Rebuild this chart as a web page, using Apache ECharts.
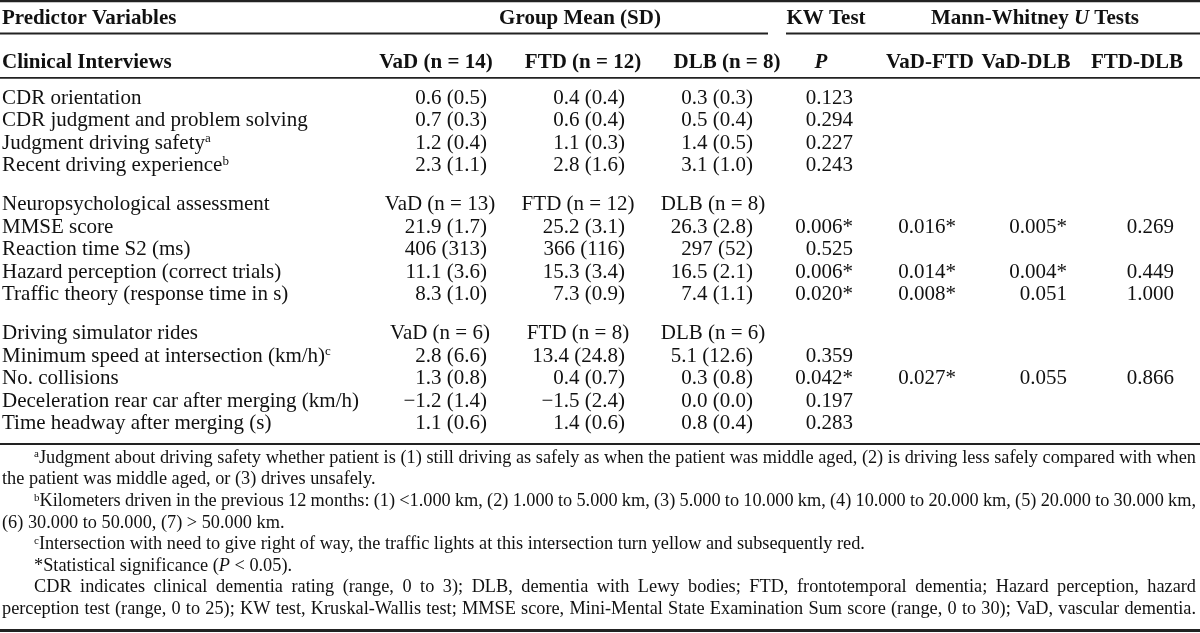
<!DOCTYPE html>
<html><head><meta charset="utf-8">
<script src="https://cdn.jsdelivr.net/npm/echarts@6/dist/echarts.min.js"></script>
<style>html,body{margin:0;padding:0;background:#fff}#c{width:1200px;height:633px}</style>
</head><body><div id="c"></div>
<script>
// ---------- DATA ----------
const headerTop = ['Predictor Variables', 'Group Mean (SD)', 'KW Test', 'Mann-Whitney {bi|U} Tests'];
const headerSub = ['Clinical Interviews', 'VaD (n = 14)', 'FTD (n = 12)', 'DLB (n = 8)', '{bi|P}', 'VaD-FTD', 'VaD-DLB', 'FTD-DLB'];
const rowLabels = [
  'CDR orientation', 'CDR judgment and problem solving', 'Judgment driving safety{sup|a}', 'Recent driving experience{sup|b}',
  'Neuropsychological assessment', 'MMSE score', 'Reaction time S2 (ms)', 'Hazard perception (correct trials)', 'Traffic theory (response time in s)',
  'Driving simulator rides', 'Minimum speed at intersection (km/h){sup|c}', 'No. collisions', 'Deceleration rear car after merging (km/h)', 'Time headway after merging (s)'
];
const rowGroup = [0,0,0,0, 1,1,1,1,1, 2,2,2,2,2];
const sectionHeads = {4: ['VaD (n = 13)', 'FTD (n = 12)', 'DLB (n = 8)'], 9: ['VaD (n = 6)', 'FTD (n = 8)', 'DLB (n = 6)']};
const vadValues = ['0.6 (0.5)', '0.7 (0.3)', '1.2 (0.4)', '2.3 (1.1)', '', '21.9 (1.7)', '406 (313)', '11.1 (3.6)', '8.3 (1.0)', '', '2.8 (6.6)', '1.3 (0.8)', '\u22121.2 (1.4)', '1.1 (0.6)'];
const ftdValues = ['0.4 (0.4)', '0.6 (0.4)', '1.1 (0.3)', '2.8 (1.6)', '', '25.2 (3.1)', '366 (116)', '15.3 (3.4)', '7.3 (0.9)', '', '13.4 (24.8)', '0.4 (0.7)', '\u22121.5 (2.4)', '1.4 (0.6)'];
const dlbValues = ['0.3 (0.3)', '0.5 (0.4)', '1.4 (0.5)', '3.1 (1.0)', '', '26.3 (2.8)', '297 (52)', '16.5 (2.1)', '7.4 (1.1)', '', '5.1 (12.6)', '0.3 (0.8)', '0.0 (0.0)', '0.8 (0.4)'];
const kwP       = ['0.123', '0.294', '0.227', '0.243', '', '0.006*', '0.525', '0.006*', '0.020*', '', '0.359', '0.042*', '0.197', '0.283'];
const vadFtdP   = ['', '', '', '', '', '0.016*', '', '0.014*', '0.008*', '', '', '0.027*', '', ''];
const vadDlbP   = ['', '', '', '', '', '0.005*', '', '0.004*', '0.051', '', '', '0.055', '', ''];
const ftdDlbP   = ['', '', '', '', '', '0.269', '', '0.449', '1.000', '', '', '0.866', '', ''];
const footnoteLines = [
  '{sup|a}Judgment about driving safety whether patient is (1) still driving as safely as when the patient was middle aged, (2) is driving less safely compared with when',
  'the patient was middle aged, or (3) drives unsafely.',
  '{sup|b}Kilometers driven in the previous 12 months: (1) <1.000 km, (2) 1.000 to 5.000 km, (3) 5.000 to 10.000 km, (4) 10.000 to 20.000 km, (5) 20.000 to 30.000 km,',
  '(6) 30.000 to 50.000, (7) > 50.000 km.',
  '{sup|c}Intersection with need to give right of way, the traffic lights at this intersection turn yellow and subsequently red.',
  '*Statistical significance ({i|P} < 0.05).',
  'CDR indicates clinical dementia rating (range, 0 to 3); DLB, dementia with Lewy bodies; FTD, frontotemporal dementia; Hazard perception, hazard',
  'perception test (range, 0 to 25); KW test, Kruskal-Wallis test; MMSE score, Mini-Mental State Examination Sum score (range, 0 to 30); VaD, vascular dementia.'
];
const footnoteIndent  = [1,0,1,0,1,1,1,0];
const footnoteJustify = [1,0,1,0,0,0,1,1];

// ---------- LAYOUT ----------
const FONT = "'Liberation Serif','Times New Roman',serif";
const INK = '#111';
const BODY = 21, NOTE = 18.3;
const LEFT = 2, RIGHT = 1196, INDENT = 32;
const valueRight = [487, 625, 753, 853, 956, 1067, 1174];
const subCenters = [436, 583, 727, 821, 930, 1026, 1137];
const sectionCenters = [440, 578, 713];
const topCenters = [580, 826, 1035];
const yTop = 19, ySub = 63, yRow0 = 98, rowStep = 22.5, groupGap = 16.5;
const yNote0 = 458, noteStep = 21.6;
const rules = [
  {x1: 0, x2: 1200, y: 1.2, w: 2.2},
  {x1: 0, x2: 768, y: 33.5, w: 1.8},
  {x1: 786, x2: 1200, y: 33.5, w: 1.8},
  {x1: 0, x2: 1200, y: 77.8, w: 1.8},
  {x1: 0, x2: 1200, y: 444, w: 2.2},
  {x1: 0, x2: 1200, y: 630.5, w: 3}
];

function rich(size, weight) {
  const base = {fontFamily: FONT, fill: INK};
  return {
    sup: Object.assign({}, base, {fontSize: Math.round(size * 0.62), fontWeight: 'normal', verticalAlign: 'top', lineHeight: Math.round(size * 0.62)}),
    i: Object.assign({}, base, {fontSize: size, fontStyle: 'italic', fontWeight: weight}),
    bi: Object.assign({}, base, {fontSize: size, fontStyle: 'italic', fontWeight: 'bold'})
  };
}
const mctx = document.createElement('canvas').getContext('2d');
function mw(t, size, weight, style) {
  mctx.font = style + ' ' + weight + ' ' + size + 'px ' + FONT;
  return mctx.measureText(t).width;
}
function measure(str, size, weight) {
  const r = rich(size, weight);
  let w = 0, last = 0, m;
  const re = /\{(\w+)\|([^}]*)\}/g;
  while ((m = re.exec(str))) {
    if (m.index > last) w += mw(str.slice(last, m.index), size, weight, 'normal');
    const st = r[m[1]];
    w += mw(m[2], st.fontSize, st.fontWeight || weight, st.fontStyle || 'normal');
    last = re.lastIndex;
  }
  if (last < str.length) w += mw(str.slice(last), size, weight, 'normal');
  return w;
}

const cells = [];
function add(x, y, text, align, size, weight) {
  if (!text) return;
  cells.push({x, y, text, align, size: size || BODY, weight: weight || 'normal'});
}
// headers
add(LEFT, yTop, headerTop[0], 'left', BODY, 'bold');
for (let k = 1; k < headerTop.length; k++) add(topCenters[k - 1], yTop, headerTop[k], 'center', BODY, 'bold');
add(LEFT, ySub, headerSub[0], 'left', BODY, 'bold');
for (let k = 1; k < headerSub.length; k++) add(subCenters[k - 1], ySub, headerSub[k], 'center', BODY, 'bold');
// body
const valueCols = [vadValues, ftdValues, dlbValues, kwP, vadFtdP, vadDlbP, ftdDlbP];
rowLabels.forEach((lab, i) => {
  const y = yRow0 + rowStep * i + groupGap * rowGroup[i];
  add(LEFT, y, lab, 'left');
  if (sectionHeads[i]) sectionHeads[i].forEach((h, k) => add(sectionCenters[k], y, h, 'center'));
  valueCols.forEach((col, k) => add(valueRight[k], y, col[i], 'right'));
});
// footnotes
footnoteLines.forEach((line, k) => {
  const y = yNote0 + noteStep * k;
  const x0 = LEFT + (footnoteIndent[k] ? INDENT : 0);
  if (!footnoteJustify[k]) { add(x0, y, line, 'left', NOTE); return; }
  const words = line.split(' ');
  const widths = words.map(w => measure(w, NOTE, 'normal'));
  const total = widths.reduce((a, b) => a + b, 0);
  const gap = (RIGHT - x0 - total) / (words.length - 1);
  let x = x0;
  words.forEach((w, j) => { add(x, y, w, 'left', NOTE); x += widths[j] + gap; });
});

const chart = echarts.init(document.getElementById('c'), null, {renderer: 'canvas'});
chart.setOption({
  animation: false,
  backgroundColor: '#fff',
  grid: {left: 0, right: 0, top: 0, bottom: 0},
  xAxis: {type: 'value', min: 0, max: 1200, show: false},
  yAxis: {type: 'value', min: 0, max: 633, inverse: true, show: false},
  series: [
    {
      type: 'custom', clip: false, silent: true,
      data: rules.map(r => [r.x1, r.y]),
      renderItem: (params, api) => {
        const r = rules[params.dataIndex];
        const p1 = api.coord([r.x1, r.y]), p2 = api.coord([r.x2, r.y]);
        return {type: 'line', shape: {x1: p1[0], y1: p1[1], x2: p2[0], y2: p2[1]}, style: {stroke: '#222', lineWidth: r.w}};
      }
    },
    {
      type: 'custom', clip: false, silent: true,
      data: cells.map(c => [c.x, c.y]),
      renderItem: (params, api) => {
        const c = cells[params.dataIndex];
        const p = api.coord([c.x, c.y]);
        return {
          type: 'text', x: p[0], y: p[1],
          style: {
            text: c.text, fontFamily: FONT, fontSize: c.size, fontWeight: c.weight, fill: INK,
            align: c.align, verticalAlign: 'middle', rich: rich(c.size, c.weight)
          }
        };
      }
    }
  ]
});
</script>
</body></html>
